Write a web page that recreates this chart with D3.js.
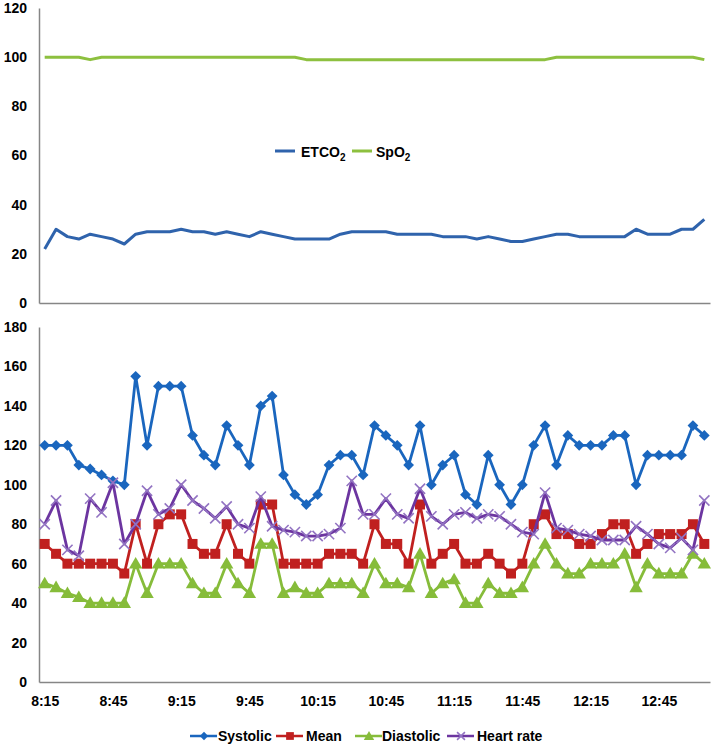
<!DOCTYPE html>
<html>
<head>
<meta charset="utf-8">
<script src="https://cdn.jsdelivr.net/npm/d3@7"></script>
<style>
  html, body { margin: 0; padding: 0; background: #fff; }
  svg text { font-family: "Liberation Sans", Arial, sans-serif; font-weight: bold; font-size: 14px; fill: #000; }
</style>
</head>
<body>
<svg id="chart" width="717" height="746"></svg>
<script>
// ---- Data ----
const times = ["8:15","8:20","8:25","8:30","8:35","8:40","8:45","8:50","8:55","9:00",
  "9:05","9:10","9:15","9:20","9:25","9:30","9:35","9:40","9:45","9:50",
  "9:55","10:00","10:05","10:10","10:15","10:20","10:25","10:30","10:35","10:40",
  "10:45","10:50","10:55","11:00","11:05","11:10","11:15","11:20","11:25","11:30",
  "11:35","11:40","11:45","11:50","11:55","12:00","12:05","12:10","12:15","12:20",
  "12:25","12:30","12:35","12:40","12:45","12:50","12:55","13:00","13:05"];
const xTickLabels = ["8:15","8:45","9:15","9:45","10:15","10:45","11:15","11:45","12:15","12:45"];

const etco2 = [22,30,27,26,28,27,26,24,28,29,29,29,30,29,29,28,29,28,27,29,28,27,26,26,26,26,28,29,
  29,29,29,28,28,28,28,27,27,27,26,27,26,25,25,26,27,28,28,27,27,27,27,27,30,28,28,28,30,30,34];
const spo2 = [100,100,100,100,99,100,100,100,100,100,100,100,100,100,100,100,100,100,100,100,100,100,100,
  99,99,99,99,99,99,99,99,99,99,99,99,99,99,99,99,99,99,99,99,99,99,
  100,100,100,100,100,100,100,100,100,100,100,100,100,99];

const systolic = [120,120,120,110,108,105,102,100,155,120,150,150,150,125,115,110,130,120,110,140,
  145,105,95,90,95,110,115,115,105,130,125,120,110,130,100,110,115,95,90,115,
  100,90,100,120,130,110,125,120,120,120,125,125,100,115,115,115,115,130,125];
const mean = [70,65,60,60,60,60,60,55,80,60,80,85,85,70,65,65,80,65,60,90,
  90,60,60,60,60,65,65,65,60,80,70,70,60,90,60,65,70,60,60,65,
  60,55,60,80,85,75,75,70,70,75,80,80,65,70,75,75,75,80,70];
const diastolic = [50,48,45,43,40,40,40,40,60,45,60,60,60,50,45,45,60,50,45,70,
  70,45,48,45,45,50,50,50,45,60,50,50,48,65,45,50,52,40,40,50,
  45,45,48,60,70,60,55,55,60,60,60,65,48,60,55,55,55,65,60];
const heartRate = [80,92,67,64,93,86,101,70,80,97,85,88,100,92,88,83,89,80,78,94,
  79,77,76,74,74,75,78,102,85,85,93,85,83,98,84,80,85,86,83,85,
  84,80,76,75,96,78,77,75,74,72,72,72,79,75,70,68,73,67,92];

const topTicks = [0,20,40,60,80,100,120];
const bottomTicks = [0,20,40,60,80,100,120,140,160,180];

// ---- Layout ----
const svg = d3.select("#chart");
const axisColor = "#868686";
const x = d3.scalePoint().domain(times).range([39, 710]).padding(0.5);

const yTop = d3.scaleLinear().domain([0, 120]).range([303, 8]);
const yBot = d3.scaleLinear().domain([0, 180]).range([682, 327]);

function styleAxis(g) {
  g.select(".domain").attr("stroke", axisColor).attr("stroke-width", 1.5);
  g.selectAll(".tick line").remove();
  g.selectAll("text").attr("fill", "#000");
}

// Top panel axes
svg.append("g").attr("transform", "translate(39,0)")
  .call(d3.axisLeft(yTop).tickValues(topTicks).tickSize(0).tickSizeOuter(0).tickPadding(12))
  .call(styleAxis);
svg.append("g").attr("transform", "translate(0,303)")
  .call(d3.axisBottom(x).tickValues([]).tickSizeOuter(0))
  .call(styleAxis);

// Bottom panel axes
svg.append("g").attr("transform", "translate(39,0)")
  .call(d3.axisLeft(yBot).tickValues(bottomTicks).tickSize(0).tickSizeOuter(0).tickPadding(12))
  .call(styleAxis);
svg.append("g").attr("transform", "translate(0,682)")
  .call(d3.axisBottom(x).tickValues(xTickLabels).tickSize(0).tickSizeOuter(0).tickPadding(14))
  .call(styleAxis);

svg.selectAll("g text").style("font-family", "'Liberation Sans', Arial, sans-serif")
  .style("font-weight", "bold").style("font-size", "14px");

// ---- Top lines ----
const topSeries = [
  {name: "ETCO", sub: "2", values: etco2, color: "#2F63AC"},
  {name: "SpO", sub: "2", values: spo2, color: "#8DC03F"}
];
topSeries.forEach(s => {
  const line = d3.line().x((d, i) => x(times[i])).y(d => yTop(d));
  svg.append("path").datum(s.values).attr("d", line)
    .attr("fill", "none").attr("stroke", s.color).attr("stroke-width", 3)
    .attr("stroke-linejoin", "round");
});

// Top legend
const topLegend = [{x0: 275, tx: 301}, {x0: 352, tx: 376}];
topSeries.forEach((s, k) => {
  const g = svg.append("g");
  g.append("line").attr("x1", topLegend[k].x0).attr("x2", topLegend[k].x0 + 20)
    .attr("y1", 151).attr("y2", 151).attr("stroke", s.color).attr("stroke-width", 3);
  const t = g.append("text").attr("x", topLegend[k].tx).attr("y", 157);
  t.append("tspan").text(s.name);
  t.append("tspan").attr("dy", 4).style("font-size", "10px").text(s.sub);
});

// ---- Bottom lines with markers ----
const bottomSeries = [
  {name: "Systolic", values: systolic, color: "#1A66BE", marker: "diamond", mcolor: "#1A66BE"},
  {name: "Mean", values: mean, color: "#C0201F", marker: "square", mcolor: "#C0201F"},
  {name: "Diastolic", values: diastolic, color: "#86BC3A", marker: "triangle", mcolor: "#86BC3A"},
  {name: "Heart rate", values: heartRate, color: "#6C35A0", marker: "x", mcolor: "#9273C2"}
];

function drawMarker(g, type, color, cx, cy, scale) {
  scale = scale || 1;
  if (type === "diamond") {
    g.append("path").attr("d", d3.symbol().type(d3.symbolSquare).size(58 * scale)())
      .attr("transform", `translate(${cx},${cy}) rotate(45)`).attr("fill", color);
  } else if (type === "square") {
    g.append("path").attr("d", d3.symbol().type(d3.symbolSquare).size(100 * scale)())
      .attr("transform", `translate(${cx},${cy})`).attr("fill", color);
  } else if (type === "triangle") {
    g.append("path").attr("d", d3.symbol().type(d3.symbolTriangle).size(78 * scale)())
      .attr("transform", `translate(${cx},${cy + 1})`).attr("fill", color);
  } else if (type === "x") {
    g.append("path").attr("d", d3.symbol().type(d3.symbolX).size(70 * scale)())
      .attr("transform", `translate(${cx},${cy})`).attr("fill", "none")
      .attr("stroke", color).attr("stroke-width", 1.6);
  }
}

bottomSeries.forEach(s => {
  const line = d3.line().x((d, i) => x(times[i])).y(d => yBot(d));
  svg.append("path").datum(s.values).attr("d", line)
    .attr("fill", "none").attr("stroke", s.color).attr("stroke-width", 2.8)
    .attr("stroke-linejoin", "round");
  const mg = svg.append("g");
  s.values.forEach((v, i) => drawMarker(mg, s.marker, s.mcolor, x(times[i]), yBot(v)));
});

// Bottom legend
const botLegend = [{x0: 190, tx: 218}, {x0: 276, tx: 306}, {x0: 355, tx: 382}, {x0: 447, tx: 477}];
bottomSeries.forEach((s, k) => {
  const g = svg.append("g");
  const lx = botLegend[k].x0;
  g.append("line").attr("x1", lx).attr("x2", lx + 27).attr("y1", 736).attr("y2", 736)
    .attr("stroke", s.color).attr("stroke-width", 2.5);
  drawMarker(g, s.marker, s.mcolor, lx + 14, 736, 0.6);
  g.append("text").attr("x", botLegend[k].tx).attr("y", 741).text(s.name);
});
</script>
</body>
</html>
